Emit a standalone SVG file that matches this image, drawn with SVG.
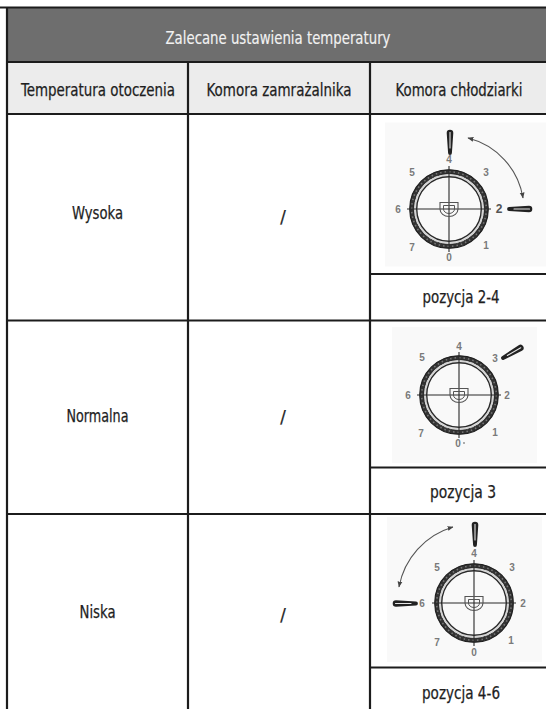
<svg xmlns="http://www.w3.org/2000/svg" xmlns:xlink="http://www.w3.org/1999/xlink" width="546" height="709" viewBox="0 0 546 709">
<style>
.t{font-family:"Liberation Sans Narrow","DejaVu Sans Condensed","Liberation Sans",Arial,sans-serif;font-size:18.3px;fill:#1e1e1e;stroke:#1e1e1e;stroke-width:0.25;text-anchor:middle}
.title{fill:#f2f2f2;stroke:#f2f2f2;stroke-width:0.15;font-size:18.5px}
.n{font-family:"Liberation Sans",Arial,sans-serif;font-size:10px;font-weight:bold;fill:#7a7a7a;text-anchor:middle;dominant-baseline:central}
.grid{stroke:#1c1c1c;stroke-width:2.2;fill:none}
.ring{fill:none}
.arc{fill:none;stroke:#555;stroke-width:1.1}
.bg{fill:#f9f9f9}
</style>
<defs>
<marker id="ah" viewBox="0 0 10 10" refX="9" refY="5" markerWidth="6" markerHeight="6" markerUnits="userSpaceOnUse" orient="auto-start-reverse">
<path d="M0,1 L10,5 L0,9 Z" fill="#444"/>
</marker>
<g id="face">
<circle class="ring" r="37.3" stroke="#333" stroke-width="4.2"/>
<circle class="ring" r="37.3" stroke="#777" stroke-width="1.6" stroke-dasharray="1.5 3"/>
<circle class="ring" r="39.3" stroke="#1e1e1e" stroke-width="1.1"/>
<circle class="ring" r="35.3" stroke="#1e1e1e" stroke-width="0.8"/>
<circle class="ring" r="34" stroke="#d4d4d4" stroke-width="1.6"/>
<circle class="ring" r="32.3" stroke="#2a2a2a" stroke-width="1.4"/>
<path d="M-42,0 H42 M0,-43 V43" stroke="#2a2a2a" stroke-width="1.1"/>
<path d="M-9,-6.5 H9 V0 A9,7.5 0 0 1 -9,0 Z" fill="none" stroke="#555" stroke-width="1.1"/>
<path d="M-5.5,-3.5 H5.5 V0 A5.5,4.5 0 0 1 -5.5,0 Z" fill="none" stroke="#555" stroke-width="1"/>
</g>
<g id="knob">
<path d="M0,-1.9 L20,-3.3 A3.3,3.3 0 0 1 20,3.3 L0,1.9 A1.9,1.9 0 0 1 0,-1.9 Z" fill="#222"/>
<path d="M5,0 L20.5,0" stroke="#e6e6e6" stroke-width="1.1" stroke-linecap="round"/>
</g>
</defs>

<g id="table">
<rect x="7" y="7.5" width="539" height="54.5" fill="#6e6e6e"/>
<rect x="7" y="62" width="539" height="52" fill="#ececec"/>
<rect x="7" y="114" width="539" height="595" fill="#ffffff"/>
<rect class="bg" x="385" y="122.5" width="161" height="144"/>
<rect class="bg" x="392" y="327" width="145" height="136"/>
<rect class="bg" x="387" y="517" width="155" height="145"/>
<path class="grid" d="M0,7.5 H546 M7,62 H546 M7,114 H546 M7,320.5 H546 M7,514 H546 M370,274 H546 M370,467.5 H546 M370,667.5 H546"/>
<path class="grid" d="M7,7.5 V709 M188,62 V709 M370,62 V709"/>
</g>

<g id="header">
<text class="t title" x="278" y="43.5" textLength="225" lengthAdjust="spacingAndGlyphs">Zalecane ustawienia temperatury</text>
<text class="t" x="98" y="96" textLength="154" lengthAdjust="spacingAndGlyphs">Temperatura otoczenia</text>
<text class="t" x="279" y="96" textLength="145" lengthAdjust="spacingAndGlyphs">Komora zamrażalnika</text>
<text class="t" x="459" y="96" style="font-size:17.5px" textLength="127" lengthAdjust="spacingAndGlyphs">Komora chłodziarki</text>
</g>

<g id="row-wysoka">
<text class="t" x="97.5" y="219" textLength="51" lengthAdjust="spacingAndGlyphs">Wysoka</text>
<text class="t" x="283" y="223">/</text>
<text class="t" x="461" y="303" textLength="77" lengthAdjust="spacingAndGlyphs">pozycja 2-4</text>
</g>
<g id="dial-1">
<use xlink:href="#face" href="#face" transform="translate(449,209)"/>
<text class="n" x="449" y="159">4</text>
<text class="n" x="412" y="172">5</text>
<text class="n" x="486" y="172">3</text>
<text class="n" x="398" y="209">6</text>
<text class="n" x="499" y="209" style="font-size:12px;fill:#555">2</text>
<text class="n" x="412" y="247">7</text>
<text class="n" x="486" y="245">1</text>
<text class="n" x="449" y="257">0</text>
<use xlink:href="#knob" href="#knob" transform="translate(450,153) rotate(-90)"/>
<use xlink:href="#knob" href="#knob" transform="translate(509,209)"/>
</g>

<g id="row-normalna">
<text class="t" x="97.5" y="422" textLength="62" lengthAdjust="spacingAndGlyphs">Normalna</text>
<text class="t" x="283" y="423">/</text>
<text class="t" x="463" y="498" textLength="66" lengthAdjust="spacingAndGlyphs">pozycja 3</text>
</g>
<g id="dial-2">
<use xlink:href="#face" href="#face" transform="translate(459,395)"/>
<text class="n" x="459" y="346">4</text>
<text class="n" x="422" y="357">5</text>
<text class="n" x="495" y="358">3</text>
<text class="n" x="408" y="395">6</text>
<text class="n" x="507" y="395">2</text>
<text class="n" x="421" y="433">7</text>
<text class="n" x="495" y="432">1</text>
<text class="n" x="458" y="443">0</text>
<circle cx="464" cy="443" r="0.9" fill="#888"/>
<use xlink:href="#knob" href="#knob" transform="translate(503,358) rotate(-30)"/>
</g>

<g id="row-niska">
<text class="t" x="97.5" y="618" textLength="36" lengthAdjust="spacingAndGlyphs">Niska</text>
<text class="t" x="283" y="621">/</text>
<text class="t" x="461" y="699" textLength="78" lengthAdjust="spacingAndGlyphs">pozycja 4-6</text>
</g>
<g id="dial-3">
<use xlink:href="#face" href="#face" transform="translate(474,603)"/>
<text class="n" x="474" y="553">4</text>
<text class="n" x="437" y="567">5</text>
<text class="n" x="512" y="567">3</text>
<text class="n" x="422" y="603">6</text>
<text class="n" x="523" y="603">2</text>
<text class="n" x="437" y="642">7</text>
<text class="n" x="511" y="640">1</text>
<text class="n" x="474" y="652">0</text>
<use xlink:href="#knob" href="#knob" transform="translate(475,545) rotate(-90)"/>
<use xlink:href="#knob" href="#knob" transform="translate(416,603.5) rotate(180)"/>
</g>

<g id="connectors">
<path class="arc" d="M468,138 A74,74 0 0 1 523,198" marker-start="url(#ah)" marker-end="url(#ah)"/>
<path class="arc" d="M453,527 A77,77 0 0 0 399,587" marker-start="url(#ah)" marker-end="url(#ah)"/>
</g>
</svg>
